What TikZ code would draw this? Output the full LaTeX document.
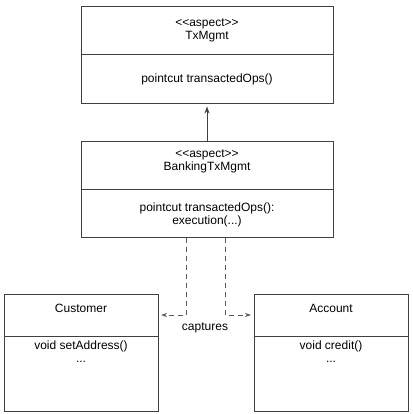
\documentclass[tikz,border=0pt]{standalone}
\usepackage{fontspec}
\setmainfont{Liberation Sans}
\usetikzlibrary{positioning,arrows.meta}

\begin{document}
\begin{tikzpicture}[x=1pt,y=-1pt,
  compart/.style={
    draw=black!75,
    line width=0.8pt,
    inner sep=0pt,
    outer sep=0pt,
    align=center,
    font=\fontsize{12}{13}\selectfont,
  },
  aspectbox/.style={compart, minimum width=252pt},
  classbox/.style={compart, minimum width=154pt},
  bodytext/.style={align=center, inner sep=0pt, font=\fontsize{12}{13}\selectfont},
  captures/.style={draw=black!65, line width=0.8pt, dash pattern=on 5pt off 4pt,
    -{Stealth[length=6pt,width=4pt]}, shorten >=3pt},
  ]
  \useasboundingbox (0,0) rectangle (412,414);
  \node[aspectbox, minimum height=48.5pt, anchor=north] (txhead) at (207,6) {<{}<aspect>{}>\\TxMgmt};
  \node[aspectbox, minimum height=49pt, below=0pt of txhead] (txops) {pointcut transactedOps()};
  \node[aspectbox, minimum height=48.5pt, anchor=north] (bankhead) at (207,141) {<{}<aspect>{}>\\BankingTxMgmt\\[-2pt]};
  \node[aspectbox, minimum height=48pt, below=0pt of bankhead] (bankops) {\\[-1pt]pointcut transactedOps():\\execution(...)};
  \node[classbox, minimum height=42pt, anchor=north] (custhead) at (81,294) {Customer\\[1pt]};
  \node[classbox, minimum height=75pt, below=0pt of custhead] (custops) {};
  \node[bodytext, below=5pt of custops.north] {void setAddress()\\...};
  \node[classbox, minimum height=42pt, anchor=north] (acchead) at (331,294) {Account\\[1pt]};
  \node[classbox, minimum height=75pt, below=0pt of acchead] (accops) {};
  \node[bodytext, below=5pt of accops.north] {void credit()\\...};
  \draw[draw=black!75, line width=0.8pt, -{Stealth[length=7pt,width=5pt]}, shorten >=3pt]
    (bankhead.north) -- (txops.south);
  \draw[captures] ([xshift=-21pt]bankops.south) |- (custhead.east);
  \draw[captures] ([xshift=18pt]bankops.south) |- (acchead.east -| accops.west);
  \node[bodytext] (capt) at (205,328) {captures};
\end{tikzpicture}
\end{document}
